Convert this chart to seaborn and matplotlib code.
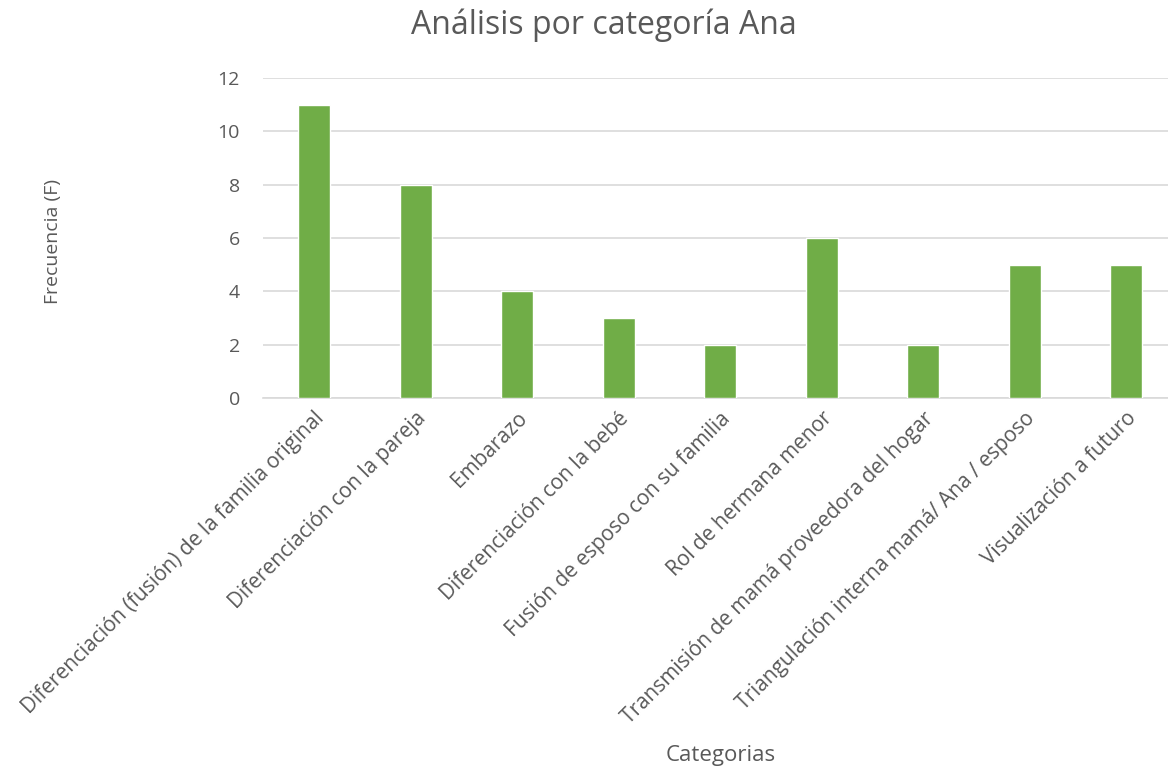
import numpy as np
import matplotlib
matplotlib.use("Agg")
import matplotlib.pyplot as plt
import pandas as pd
import seaborn as sns

sns.set_style("white")
plt.rcParams['font.family'] = ['Open Sans', 'DejaVu Sans']

categorias = ['Diferenciación (fusión) de la familia original',
              'Diferenciación con la pareja',
              'Embarazo',
              'Diferenciación con la bebé',
              'Fusión de esposo con su familia',
              'Rol de hermana menor',
              'Transmisión de mamá proveedora del hogar',
              'Triangulación interna mamá/ Ana / esposo',
              'Visualización a futuro']
frecuencia = [11, 8, 4, 3, 2, 6, 2, 5, 5]
y_ticks = [0, 2, 4, 6, 8, 10, 12]

df = pd.DataFrame({'Categoria': categorias, 'Frecuencia': frecuencia})

gris = '#595959'
fig = plt.figure(figsize=(11.68, 7.78), dpi=100)
# the plot area runs slightly past the right edge, as in the original
ax = fig.add_axes([0.2255, 0.488, 0.782, 0.412])

sns.barplot(x='Categoria', y='Frecuencia', data=df, color='#70AD47',
            saturation=1, width=0.315, ax=ax, zorder=3)

ax.set_ylim(0, 12)
ax.set_yticks(y_ticks)
ax.set_xlim(-0.5, len(categorias) - 0.5)
ax.yaxis.grid(True, color='#D9D9D9', linewidth=1.2, zorder=0)
sns.despine(ax=ax, left=True, top=True, right=True)
ax.spines['bottom'].set_color('#D9D9D9')
ax.spines['bottom'].set_linewidth(1.2)
ax.tick_params(axis='both', length=0, colors=gris)
ax.tick_params(axis='x', labelsize=15, pad=7)
ax.tick_params(axis='y', labelsize=14, pad=17)
plt.setp(ax.get_xticklabels(), rotation=45, ha='right', rotation_mode='anchor')

ax.set_xlabel('')
ax.set_ylabel('')
fig.text(0.617, 0.015, 'Categorias', color=gris, fontsize=16, ha='center', va='bottom')
fig.text(0.045, 0.69, 'Frecuencia (F)', color=gris, fontsize=14, ha='center', va='center', rotation=90)
fig.text(0.517, 0.968, 'Análisis por categoría Ana', color=gris, fontsize=23, ha='center', va='center')

plt.savefig('out.png', dpi=100)
